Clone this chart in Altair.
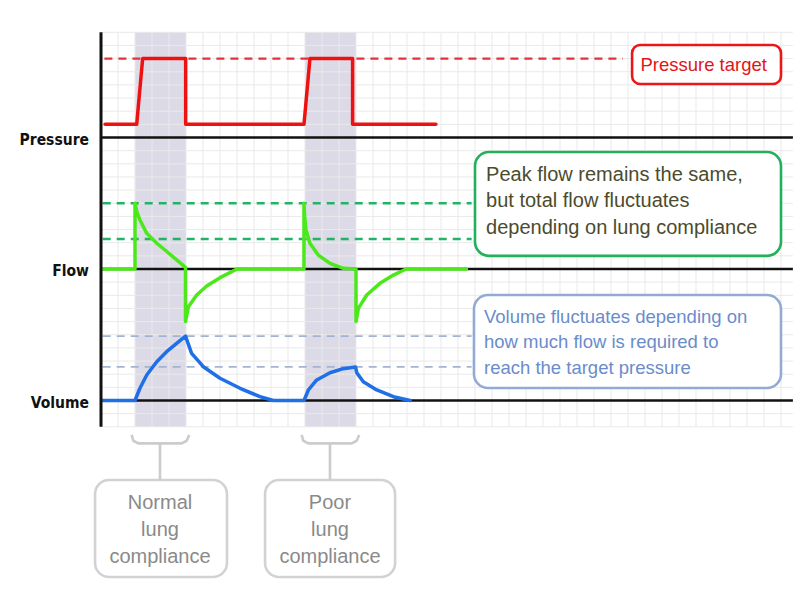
import altair as alt
import pandas as pd

# ---------------- data (time in grid columns, value in grid rows) ----------------
pressure_t = [0.24, 2.1, 2.45, 4.98, 4.98, 11.94, 12.29, 14.8, 14.8, 19.7]
pressure_v = [21, 21, 26, 26, 21, 21, 26, 26, 21, 21]

flow_t = [0.05, 2.0, 2.0, 2.12, 2.29, 2.69, 3.28, 3.87, 4.45, 4.97, 4.97, 5.14, 5.63, 6.22, 7.0, 8.0,
          11.94, 11.94, 11.98, 12.06, 12.29, 12.78, 13.47, 14.25, 15.0, 15.0, 15.14, 15.63, 16.41,
          17.2, 17.95, 21.5]
flow_v = [10, 10, 15, 14.3, 13.73, 12.71, 11.96, 11.33, 10.69, 10.13, 6.0, 7.13, 8.02, 8.71, 9.34, 10,
          10, 15, 14.0, 12.97, 11.95, 11.06, 10.43, 10.05, 10.0, 6.0, 7.01, 8.02, 8.91,
          9.54, 10, 10]

volume_t = [0.05, 2.0, 2.29, 2.69, 3.28, 3.86, 4.45, 4.97, 5.33, 6.02, 7.0, 8.18, 9.35, 10.14,
            11.94, 12.2, 12.69, 13.47, 14.25, 14.97, 15.05, 15.43, 16.22, 17.2, 18.18]
volume_v = [0, 0, 0.93, 1.94, 2.95, 3.71, 4.35, 4.9, 3.59, 2.57, 1.69, 0.93, 0.29, 0,
            0, 0.8, 1.56, 2.11, 2.42, 2.55, 2.1, 1.43, 0.8, 0.29, 0]

band_start = [2, 12]
band_end = [5, 15]

baselines = [20, 10, 0]
baseline_labels = ["Pressure", "Flow", "Volume"]

red_target = [26]
green_levels = [15, 12.28]
blue_levels = [4.9, 2.55]

pressure_box_text = ["Pressure target"]
green_box_text = ["Peak flow remains the same,", "but total flow fluctuates",
                  "depending on lung compliance"]
blue_box_text = ["Volume fluctuates depending on", "how much flow is required to",
                 "reach the target pressure"]
bottom_left_text = ["Normal", "lung", "compliance"]
bottom_right_text = ["Poor", "lung", "compliance"]

# ---------------- layout ----------------
W, H = 792, 598
PX_T, PX_V = 17.0, 13.15
ORIGIN_X, ORIGIN_Y = 101 - 8, 400.5 - 8
X0, X1 = -ORIGIN_X / PX_T, (W - ORIGIN_X) / PX_T
Y0, Y1 = (ORIGIN_Y - H) / PX_V, ORIGIN_Y / PX_V
GRID_T1 = 40.7
GRID_V0, GRID_V1 = -2, 28

xs = alt.Scale(domain=[X0, X1], nice=False, zero=False)
ys = alt.Scale(domain=[Y0, Y1], nice=False, zero=False)


def X(f):
    return alt.X(f, type="quantitative", scale=xs, axis=None)


def Y(f):
    return alt.Y(f, type="quantitative", scale=ys, axis=None)


TEXT_FONT = "Liberation Sans, Arial, sans-serif"
LABEL_FONT = "DejaVu Sans Condensed, DejaVu Sans, sans-serif"

layers = []

# bands
bands = pd.DataFrame({"t0": band_start, "t1": band_end, "v0": GRID_V0, "v1": GRID_V1})
layers.append(alt.Chart(bands).mark_rect(color="#dddae7").encode(
    x=X("t0"), x2="t1", y=Y("v0"), y2="v1"))

# grid
vgrid = pd.DataFrame({"t": list(range(0, 41)), "v0": GRID_V0, "v1": GRID_V1})
hgrid = pd.DataFrame({"v": list(range(GRID_V0, GRID_V1 + 1)), "t0": 0, "t1": GRID_T1})
layers.append(alt.Chart(vgrid).mark_rule(color="#e9e9e9", strokeWidth=1).encode(
    x=X("t"), y=Y("v0"), y2="v1"))
layers.append(alt.Chart(hgrid).mark_rule(color="#e9e9e9", strokeWidth=1).encode(
    y=Y("v"), x=X("t0"), x2="t1"))

# dashed reference lines
red_df = pd.DataFrame({"v": red_target, "t0": 0.2, "t1": 30.7})
green_df = pd.DataFrame({"v": green_levels, "t0": 0.1, "t1": 21.8})
blue_df = pd.DataFrame({"v": blue_levels, "t0": 0.1, "t1": 21.8})
layers.append(alt.Chart(red_df).mark_rule(color="#e8303a", strokeWidth=2.4, strokeDash=[8, 6]).encode(
    y=Y("v"), x=X("t0"), x2="t1"))
layers.append(alt.Chart(green_df).mark_rule(color="#22b466", strokeWidth=2.4, strokeDash=[8, 6]).encode(
    y=Y("v"), x=X("t0"), x2="t1"))
layers.append(alt.Chart(blue_df).mark_rule(color="#a3b4d2", strokeWidth=1.8, strokeDash=[8, 6]).encode(
    y=Y("v"), x=X("t0"), x2="t1"))

# baselines
base_df = pd.DataFrame({"v": baselines, "t0": 0, "t1": GRID_T1, "label": baseline_labels})
layers.append(alt.Chart(base_df).mark_rule(color="#111111", strokeWidth=2.6).encode(
    y=Y("v"), x=X("t0"), x2="t1"))

# signal curves
def curve(ts, vs, color):
    df = pd.DataFrame({"t": ts, "v": vs, "i": list(range(len(ts)))})
    return alt.Chart(df).mark_line(color=color, strokeWidth=3.5, strokeJoin="round",
                                   strokeCap="round").encode(
        x=X("t"), y=Y("v"), order=alt.Order("i:Q"))

layers.append(curve(pressure_t, pressure_v, "#ee1111"))
layers.append(curve(flow_t, flow_v, "#4be81a"))
layers.append(curve(volume_t, volume_v, "#1f6fe6"))

# y axis line
axis_df = pd.DataFrame({"t": [0], "v0": [GRID_V0], "v1": [GRID_V1]})
layers.append(alt.Chart(axis_df).mark_rule(color="#111111", strokeWidth=3).encode(
    x=X("t"), y=Y("v0"), y2="v1"))

# row labels
layers.append(alt.Chart(base_df).mark_text(align="right", baseline="middle", dx=-12, dy=2,
                                           font=LABEL_FONT, fontWeight="bold", fontSize=15.5,
                                           color="#111111").encode(
    x=alt.X("t0:Q", scale=xs, axis=None), y=Y("v"), text="label:N"))

# annotation boxes
def box(t0, t1, v0, v1, stroke, radius):
    df = pd.DataFrame({"t0": [t0], "t1": [t1], "v0": [v0], "v1": [v1]})
    return alt.Chart(df).mark_rect(fill="white", stroke=stroke, strokeWidth=2.6,
                                   cornerRadius=radius).encode(
        x=X("t0"), x2="t1", y=Y("v0"), y2="v1")

layers.append(box(31.24, 40.0, 24.07, 27.03, "#e81818", 8))
layers.append(box(22.0, 40.0, 11.0, 18.9, "#22b05a", 14))
layers.append(box(21.94, 40.0, 0.95, 8.02, "#93aad2", 14))
layers.append(box(-0.35, 7.41, -13.42, -6.05, "#d2d2d2", 14))
layers.append(box(9.65, 17.3, -13.42, -6.05, "#d2d2d2", 14))

# brackets
br_dt = [-1.67, -1.57, -1.28, 0, 1.28, 1.57, 1.72]
br_dv = [-2.62, -3.06, -3.26, -3.26, -3.26, -3.06, -2.62]
rows = []
for g, c in enumerate([3.47, 13.47]):
    for i, (dt, dv) in enumerate(zip(br_dt, br_dv)):
        rows.append({"g": f"b{g}", "i": i, "t": c + dt, "v": dv})
    rows.append({"g": f"s{g}", "i": 0, "t": c, "v": -3.26})
    rows.append({"g": f"s{g}", "i": 1, "t": c, "v": -6.05})
br_df = pd.DataFrame(rows)
layers.append(alt.Chart(br_df).mark_line(color="#cccccc", strokeWidth=2.6, strokeJoin="round").encode(
    x=X("t"), y=Y("v"), detail="g:N", order=alt.Order("i:Q")))

# texts
def texts(lines, t, vs, color, size, align):
    df = pd.DataFrame({"txt": lines, "t": t, "v": vs})
    return alt.Chart(df).mark_text(align=align, baseline="middle", font=TEXT_FONT,
                                   fontSize=size, color=color).encode(
        x=X("t"), y=Y("v"), text="txt:N")

layers.append(texts(pressure_box_text, 35.45, [25.55], "#e21414", 18.5, "center"))
layers.append(texts(green_box_text, 22.65, [17.14, 15.15, 13.12], "#4b4b2e", 20, "left"))
layers.append(texts(blue_box_text, 22.53, [6.35, 4.47, 2.45], "#6a8ccb", 18.5, "left"))
layers.append(texts(bottom_left_text, 3.47, [-7.79, -9.85, -11.9], "#8a8a8a", 20, "center"))
layers.append(texts(bottom_right_text, 13.47, [-7.79, -9.85, -11.9], "#8a8a8a", 20, "center"))

chart = alt.layer(*layers).properties(
    width=W, height=H, autosize=alt.AutoSizeParams(type="none"), padding=0
).configure_view(stroke=None)

chart.save("out.html", embed_options={"renderer": "svg", "actions": False})
